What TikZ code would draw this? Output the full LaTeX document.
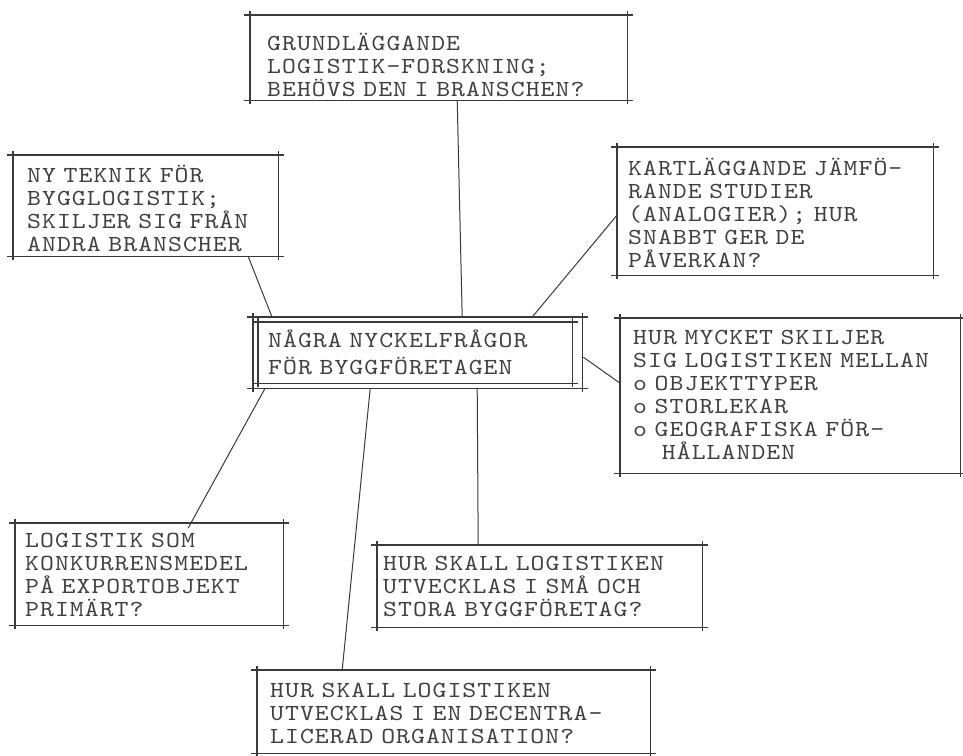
\documentclass[tikz,border=0pt]{standalone}
\usepackage{fontspec}
\usepackage{tikz}
\newfontfamily\typefont[LetterSpace=4.5,FakeStretch=1.15]{lmmono10-regular.otf}
\DeclareRobustCommand\typesize{\fontsize{23}{23}\selectfont\spaceskip=14.9pt\relax}
\definecolor{inkgray}{RGB}{58,58,58}
\definecolor{typegray}{RGB}{64,64,64}

\tikzset{
  qbox/.style={anchor=north west, align=left, inner ysep=0pt, text=typegray,
    font=\typefont\typesize},
  hedge/.style={draw=inkgray, line width=1.1pt, shorten <=-6pt, shorten >=-6pt},
  vedge/.style={draw=inkgray, line width=1.1pt, shorten <=-4pt, shorten >=-4pt},
  link/.style={draw=inkgray, line width=1pt}
}

\begin{document}
\begin{tikzpicture}[x=1pt, y=-1pt]
\useasboundingbox (0,0) rectangle (963,755);

\node[qbox, inner xsep=17pt, text width=343pt, text height=35pt, text depth=50pt] (grund) at (250,15)
  {GRUNDLÄGGANDE\\LOGISTIK-FORSKNING;\\BEHÖVS DEN I BRANSCHEN?};
\node[qbox, inner xsep=14pt, text width=237pt, text height=27pt, text depth=74pt] (teknik) at (13,155)
  {NY TEKNIK FÖR\\BYGGLOGISTIK;\\SKILJER SIG FRÅN\\ANDRA BRANSCHER};
\node[qbox, inner xsep=11pt, text width=294pt, text height=28pt, text depth=100pt] (kart) at (617,147)
  {KARTLÄGGANDE JÄMFÖ-\\RANDE STUDIER\\(ANALOGIER); HUR\\SNABBT GER DE\\PÅVERKAN?};
\node[qbox, inner xsep=10pt, text width=294pt, text height=25pt, text depth=36pt] (kern) at (258,322)
  {NÅGRA NYCKELFRÅGOR\\[4pt]FÖR BYGGFÖRETAGEN};
\node[qbox, inner xsep=13pt, text width=314pt, text height=26pt, text depth=129pt] (skiljer) at (620,318)
  {HUR MYCKET SKILJER\\SIG LOGISTIKEN MELLAN\\o OBJEKTTYPER\\o STORLEKAR\\o GEOGRAFISKA FÖR-\\\phantom{o}\hspace{14.9pt}HÅLLANDEN};
\node[qbox, inner xsep=10pt, text width=248pt, text height=24pt, text depth=78pt] (export) at (15,523)
  {LOGISTIK SOM\\KONKURRENSMEDEL\\PÅ EXPORTOBJEKT\\PRIMÄRT?};
\node[qbox, inner xsep=6pt, text width=313pt, text height=25pt, text depth=57pt] (storlek) at (377,545)
  {HUR SKALL LOGISTIKEN\\UTVECKLAS I SMÅ OCH\\STORA BYGGFÖRETAG?};
\node[qbox, inner xsep=13pt, text width=367pt, text height=27pt, text depth=56pt] (decentr) at (257,670)
  {HUR SKALL LOGISTIKEN\\UTVECKLAS I EN DECENTRA-\\LICERAD ORGANISATION?};

\foreach \n in {grund,teknik,kart,kern,skiljer,export,storlek,decentr}{
  \draw[hedge] (\n.north west) -- (\n.north east);
  \draw[hedge] (\n.south west) -- (\n.south east);
  \draw[vedge] (\n.north west) -- (\n.south west);
  \draw[vedge] (\n.north east) -- (\n.south east);
}
\draw[hedge] ([shift={(-5pt,5pt)}]kern.north west) -- ([shift={(10pt,5pt)}]kern.north east);
\draw[hedge] ([shift={(-5pt,-5pt)}]kern.south west) -- ([shift={(10pt,-5pt)}]kern.south east);
\draw[vedge] ([shift={(-5pt,5pt)}]kern.north west) -- ([shift={(-5pt,-5pt)}]kern.south west);
\draw[vedge] ([shift={(10pt,5pt)}]kern.north east) -- ([shift={(10pt,-5pt)}]kern.south east);

\draw[link] ([xshift=18.5pt]grund.south) -- ([xshift=47pt,yshift=5pt]kern.north);
\draw[link] ([xshift=102.5pt]teknik.south) -- ([xshift=14pt,yshift=5pt]kern.north west);
\draw[link] ([yshift=-4pt]kart.west) -- ([xshift=117pt,yshift=5pt]kern.north);
\draw[link] ([xshift=11pt,yshift=-4.5pt]kern.east) -- ([yshift=12.5pt]skiljer.west);
\draw[link] ([xshift=7pt,yshift=-5pt]kern.south west) -- ([xshift=39pt,yshift=-5pt]export.north);
\draw[link] ([xshift=62pt,yshift=-5pt]kern.south) -- ([xshift=-61.5pt]storlek.north);
\draw[link] ([xshift=-45pt,yshift=-5pt]kern.south) -- ([xshift=-111.5pt]decentr.north);
\end{tikzpicture}
\end{document}
